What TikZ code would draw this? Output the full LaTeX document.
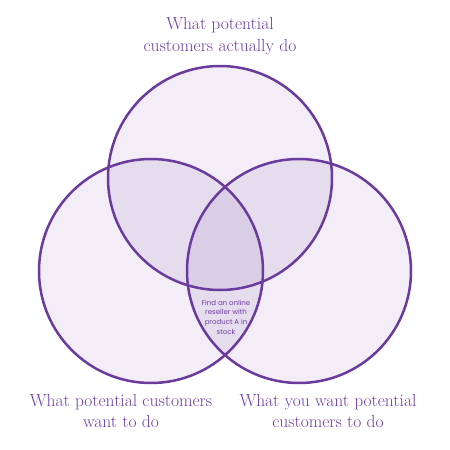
\documentclass[tikz,border=0pt]{standalone}
\usepackage{fontspec}
\newfontfamily\insidefont{Poppins}
\usepackage{tikz}
\definecolor{vennline}{HTML}{6A3A9C}
\definecolor{venntext}{HTML}{6C3DA2}
\newcommand{\vennradius}{112}
\newcommand{\vennshade}{0.09}

\begin{document}
\begin{tikzpicture}[x=1pt,y=-1pt,
  setlabel/.style={text=venntext,align=center,font=\fontsize{17.5}{21.5}\selectfont},
  insidelabel/.style={text=venntext,align=center,font=\insidefont\fontsize{7}{9.7}\selectfont}]
\useasboundingbox (0,0) rectangle (450,450);
\coordinate (top) at (220,178);
\coordinate (left) at (151,271);
\coordinate (right) at (299,271);
%shading
\fill[vennline,fill opacity=\vennshade] (top) circle (\vennradius);
\fill[vennline,fill opacity=\vennshade] (left) circle (\vennradius);
\fill[vennline,fill opacity=\vennshade] (right) circle (\vennradius);
%outlines
\draw[vennline,line width=2.5pt] (top) circle (\vennradius);
\draw[vennline,line width=2.5pt] (left) circle (\vennradius);
\draw[vennline,line width=2.5pt] (right) circle (\vennradius);
%labels
\node[setlabel] (toplabel) at (220,36) {What potential\\customers actually do};
\node[setlabel] (leftlabel) at (121,411) {What potential customers\\want to do};
\node[setlabel] (rightlabel) at (328,411) {What you want potential\\customers to do};
\node[insidelabel] (inside) at (226,317) {Find an online\\reseller with\\product A in\\stock};
\end{tikzpicture}
\end{document}
